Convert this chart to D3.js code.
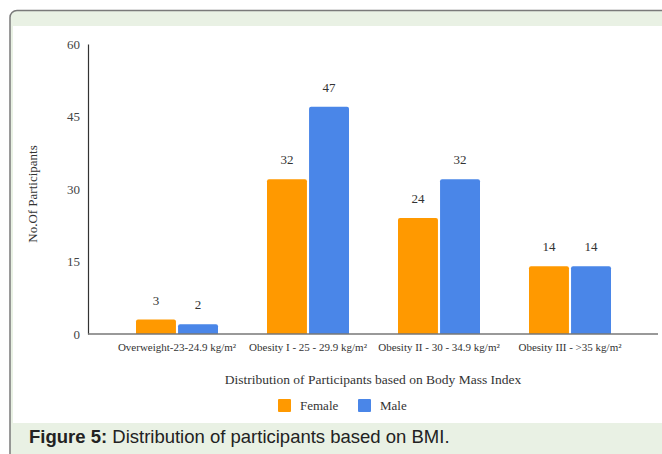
<!DOCTYPE html>
<html>
<head>
<meta charset="utf-8">
<script src="https://cdn.jsdelivr.net/npm/d3@7"></script>
<style>
  body { margin: 0; background: #fff; }
  svg { display: block; }
</style>
</head>
<body>
<script>
// data
var categories = ["Overweight-23-24.9 kg/m\u00B2", "Obesity I - 25 - 29.9 kg/m\u00B2", "Obesity II - 30 - 34.9 kg/m\u00B2", "Obesity III - >35 kg/m\u00B2"];
var seriesNames = ["Female", "Male"];
var female = [3, 32, 24, 14];
var male = [2, 47, 32, 14];
var yTicks = [0, 15, 30, 45, 60];
var colors = ["#ff9900", "#4a86e8"];

var W = 662, H = 454;
var serif = "'Liberation Serif', 'Times New Roman', serif";

var svg = d3.select("body").append("svg")
  .attr("width", W)
  .attr("height", H);

// outer frame
svg.append("rect")
  .attr("x", 10).attr("y", 10.5)
  .attr("width", 700).attr("height", 470)
  .attr("rx", 7)
  .style("fill", "#e9f1e4")
  .style("stroke", "#7a7a7a")
  .style("stroke-width", 1.5);

svg.append("rect")
  .attr("x", 13).attr("y", 26)
  .attr("width", 660).attr("height", 397)
  .style("fill", "#ffffff");

// scales
var y = d3.scaleLinear().domain([0, 60]).range([334, 44]);

var x0 = d3.scaleBand()
  .domain(categories)
  .range([111.5, 635.5]);

var x1 = d3.scaleBand()
  .domain(seriesNames)
  .range([x0.bandwidth() / 2 - 41, x0.bandwidth() / 2 + 41])
  .paddingInner(0.05);

var rows = categories.map(function(c, i) {
  return { cat: c, vals: [female[i], male[i]] };
});

// y axis
var yAxis = svg.append("g")
  .attr("transform", "translate(88,0)")
  .call(d3.axisLeft(y).tickValues(yTicks).tickSize(0).tickPadding(8));
yAxis.select(".domain").style("stroke", "#333").style("stroke-width", 1.2);
yAxis.selectAll("text")
  .style("font-family", serif)
  .style("font-size", "13px")
  .style("fill", "#444");

// bars
var groups = svg.selectAll("g.grp")
  .data(rows)
  .enter().append("g")
  .attr("class", "grp")
  .attr("transform", function(d) { return "translate(" + x0(d.cat) + ",0)"; });

groups.selectAll("path")
  .data(function(d) {
    return d.vals.map(function(v, j) { return { name: seriesNames[j], v: v, j: j }; });
  })
  .enter().append("path")
  .attr("d", function(d) {
    var bx = x1(d.name), bw = x1.bandwidth(), top = y(d.v), bot = y(0), r = 2;
    return "M" + bx + "," + bot + "V" + (top + r) + "Q" + bx + "," + top + " " + (bx + r) + "," + top +
      "H" + (bx + bw - r) + "Q" + (bx + bw) + "," + top + " " + (bx + bw) + "," + (top + r) + "V" + bot + "Z";
  })
  .style("fill", function(d) { return colors[d.j]; });

groups.selectAll("text.val")
  .data(function(d) {
    return d.vals.map(function(v, j) { return { name: seriesNames[j], v: v }; });
  })
  .enter().append("text")
  .attr("class", "val")
  .attr("x", function(d) { return x1(d.name) + x1.bandwidth() / 2; })
  .attr("y", function(d) { return y(d.v) - 15; })
  .attr("text-anchor", "middle")
  .style("font-family", serif)
  .style("font-size", "13px")
  .style("fill", "#333")
  .text(function(d) { return d.v; });

// x axis
var xAxis = svg.append("g")
  .attr("transform", "translate(0,334)")
  .call(d3.axisBottom(x0).tickSize(0).tickPadding(9));
xAxis.select(".domain")
  .attr("d", "M88,0H658")
  .style("stroke", "#777")
  .style("stroke-width", 1.5);
xAxis.selectAll("text")
  .style("font-family", serif)
  .style("font-size", "11px")
  .style("fill", "#333");

// axis titles
svg.append("text")
  .attr("transform", "translate(37,194) rotate(-90)")
  .attr("text-anchor", "middle")
  .style("font-family", serif)
  .style("font-size", "13px")
  .style("fill", "#333")
  .text("No.Of Participants");

svg.append("text")
  .attr("x", 373).attr("y", 384)
  .attr("text-anchor", "middle")
  .style("font-family", serif)
  .style("font-size", "13.5px")
  .style("fill", "#333")
  .text("Distribution of Participants based on Body Mass Index");

// legend
var legendX = [278, 358];
var leg = svg.selectAll("g.leg")
  .data(seriesNames)
  .enter().append("g")
  .attr("class", "leg")
  .attr("transform", function(d, i) { return "translate(" + legendX[i] + ",399)"; });
leg.append("rect")
  .attr("width", 13).attr("height", 13)
  .attr("rx", 1)
  .style("fill", function(d, i) { return colors[i]; });
leg.append("text")
  .attr("x", 22).attr("y", 11)
  .style("font-family", serif)
  .style("font-size", "13px")
  .style("fill", "#333")
  .text(function(d) { return d; });

// caption
var cap = svg.append("text")
  .attr("x", 29).attr("y", 443)
  .style("font-family", "'Liberation Sans', Arial, sans-serif")
  .style("font-size", "18.5px")
  .style("fill", "#222");
cap.append("tspan").style("font-weight", "bold").text("Figure 5:");
cap.append("tspan").text(" Distribution of participants based on BMI.");
</script>
</body>
</html>
